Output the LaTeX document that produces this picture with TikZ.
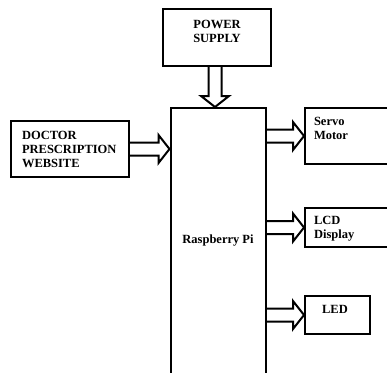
\documentclass[tikz,border=0pt]{standalone}
\usepackage{fontspec}
\setmainfont{Liberation Serif}
\usetikzlibrary{calc}
\usetikzlibrary{positioning}

\begin{document}
\begin{tikzpicture}[
    x=1pt, y=-1pt,
    line width=2pt,
    line join=miter,
    font=\fontsize{12.5}{14}\selectfont\bfseries,
    blockbox/.style={
        draw=black,
        rectangle,
        inner sep=0pt
    },
    boxtext/.style={
        inner sep=0pt,
        align=left
    }
]

    \clip (0,0) rectangle (387,372);

    % boxes
    \node[blockbox, minimum width=108pt, minimum height=57pt] (power) at (217,37.5) {};
    \node[blockbox, minimum width=95pt, minimum height=272pt] (rpi) at (218,244) {};
    \node[blockbox, minimum width=118pt, minimum height=56pt] (doctor) at (70,149) {};
    \node[blockbox, minimum width=90pt, minimum height=56pt] (servo) at (350,136) {};
    \node[blockbox, minimum width=90pt, minimum height=39pt] (lcd) at (350,227.5) {};
    \node[blockbox, minimum width=65pt, minimum height=38pt] (led) at (337.5,315) {};

    % texts
    \node[boxtext, align=center] (powertext) at (217,31) {POWER\\SUPPLY};
    \node[boxtext] (rpitext) at (rpi.center |- 0,241) {Raspberry Pi};
    \node[boxtext, anchor=west] (doctortext) at (21,149) {DOCTOR\\PRESCRIPTION\\WEBSITE};
    \node[boxtext, anchor=north west] (servotext) at (313,116) {Servo\\Motor};
    \node[boxtext, anchor=north west] (lcdtext) at (313,215) {LCD\\Display};
    \node[boxtext] (ledtext) at (335,309) {LED};

    % hollow arrows, shaft 6.5 each side, head 14 each side, 11 long
    \foreach \src/\dst in {doctor.east/rpi.west |- doctor.east,
                           rpi.east |- servo.west/servo.west,
                           rpi.east |- lcd.west/lcd.west,
                           rpi.east |- led.west/led.west} {
        \coordinate (from) at (\src);
        \coordinate (to) at (\dst);
        \draw
            ($(from)+(0,-6.5)$) -- ($(to)+(-11,-6.5)$) -- ($(to)+(-11,-14)$)
            -- (to)
            -- ($(to)+(-11,14)$) -- ($(to)+(-11,6.5)$) -- ($(from)+(0,6.5)$);
    }

    \coordinate (pfrom) at ($(power.south)+(-2,0)$);
    \coordinate (pto) at (rpi.north -| pfrom);
    \draw
        ($(pfrom)+(-6.5,0)$) -- ($(pto)+(-6.5,-11)$) -- ($(pto)+(-14,-11)$)
        -- (pto)
        -- ($(pto)+(14,-11)$) -- ($(pto)+(6.5,-11)$) -- ($(pfrom)+(6.5,0)$);

\end{tikzpicture}
\end{document}
